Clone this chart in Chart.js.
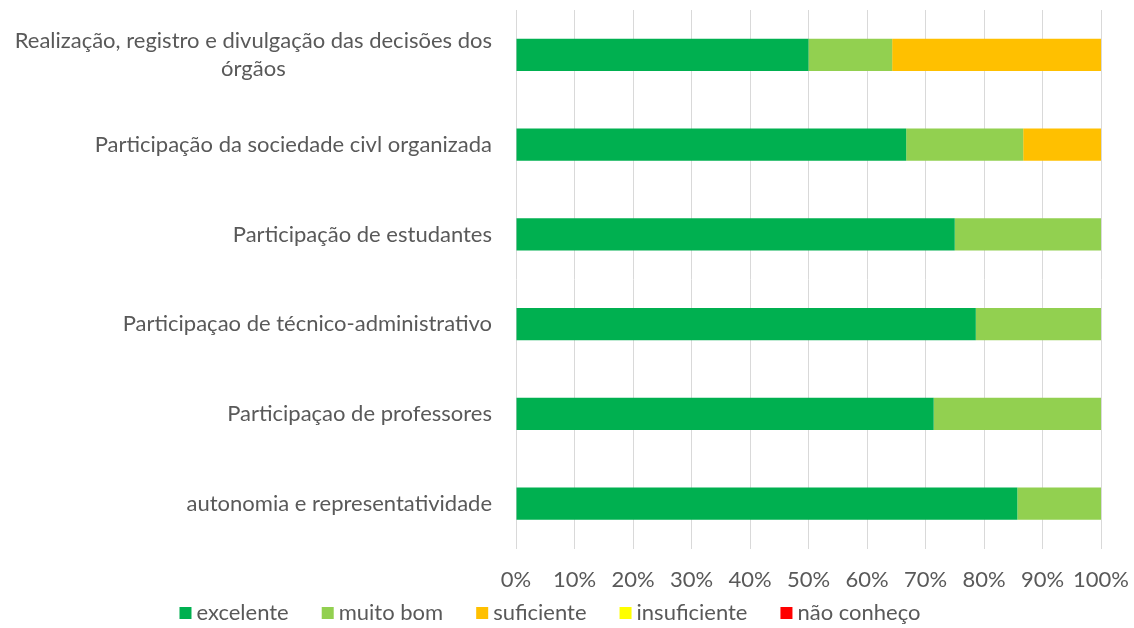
<!DOCTYPE html>
<html><head><meta charset="utf-8">
<script src="https://cdn.jsdelivr.net/npm/chart.js@4"></script>
<style>html,body{margin:0;padding:0;background:#fff}#wrap{width:1134px;height:628px}</style>
</head><body><div id="wrap"><canvas id="c" width="1134" height="628"></canvas></div>
<script>
const categories = [
  ["Realização, registro e divulgação das decisões dos", "órgãos"],
  "Participação da sociedade civl organizada",
  "Participação de estudantes",
  "Participaçao de técnico-administrativo",
  "Participaçao de professores",
  "autonomia e representatividade"
];
const excelente    = [50.0, 66.7, 75.0, 78.6, 71.4, 85.7];
const muitoBom     = [14.3, 20.0, 25.0, 21.4, 28.6, 14.3];
const suficiente   = [35.7, 13.3, 0, 0, 0, 0];
const insuficiente = [0, 0, 0, 0, 0, 0];
const naoConheco   = [0, 0, 0, 0, 0, 0];
const xTicks = [0,10,20,30,40,50,60,70,80,90,100];

const FONT = "Lato, 'Liberation Sans', sans-serif";
const TXT = "#595959";
const FS = 22;

const yLabelPlugin = {
  id: 'yLabels',
  afterDraw(chart) {
    const ctx = chart.ctx, y = chart.scales.y;
    ctx.save();
    ctx.font = FS + "px " + FONT;
    ctx.fillStyle = TXT;
    ctx.textBaseline = 'middle';
    ctx.textAlign = 'center';
    const right = y.right - 24;
    categories.forEach((lab, i) => {
      const lines = Array.isArray(lab) ? lab : [lab];
      const w = Math.max(...lines.map(l => ctx.measureText(l).width));
      const cx = right - w / 2;
      const cy = y.getPixelForValue(i);
      const lh = 28;
      lines.forEach((l, j) => {
        ctx.fillText(l, cx, cy + (j - (lines.length - 1) / 2) * lh);
      });
    });
    ctx.restore();
  }
};

const legendPlugin = {
  id: 'bottomLegend',
  afterDraw(chart) {
    const ctx = chart.ctx;
    const ds = chart.data.datasets;
    ctx.save();
    ctx.font = FS + "px " + FONT;
    ctx.textBaseline = 'middle';
    ctx.textAlign = 'left';
    const box = 12, gap = 5, itemGap = 33;
    const widths = ds.map(d => box + gap + ctx.measureText(d.label).width);
    const total = widths.reduce((a, b) => a + b, 0) + itemGap * (ds.length - 1);
    let x = 550 - total / 2;
    const cy = 613;
    ds.forEach((d, i) => {
      ctx.fillStyle = d.backgroundColor;
      ctx.fillRect(x, cy - box / 2, box, box);
      ctx.fillStyle = TXT;
      ctx.fillText(d.label, x + box + gap, cy);
      x += widths[i] + itemGap;
    });
    ctx.restore();
  }
};

new Chart(document.getElementById('c'), {
  type: 'bar',
  data: {
    labels: categories,
    datasets: [
      {label: 'excelente', data: excelente, backgroundColor: '#00B050'},
      {label: 'muito bom', data: muitoBom, backgroundColor: '#92D050'},
      {label: 'suficiente', data: suficiente, backgroundColor: '#FFC000'},
      {label: 'insuficiente', data: insuficiente, backgroundColor: '#FFFF00'},
      {label: 'não conheço', data: naoConheco, backgroundColor: '#FF0000'}
    ]
  },
  options: {
    indexAxis: 'y',
    responsive: false,
    animation: false,
    barPercentage: 0.36,
    categoryPercentage: 1.0,
    layout: {padding: {top: 10, right: 33, bottom: 17, left: 0}},
    plugins: {
      legend: {display: false},
      tooltip: {enabled: false}
    },
    scales: {
      x: {
        stacked: true, min: 0, max: 100,
        afterBuildTicks(s) { s.ticks = xTicks.map(v => ({value: v})); },
        afterFit(s) { s.paddingRight = 0; s.paddingLeft = 0; },
        ticks: {
          callback: v => v + '%',
          autoSkip: false, minRotation: 0, maxRotation: 0,
          color: TXT, font: {family: FONT, size: FS}, padding: 18
        },
        grid: {color: '#D9D9D9', lineWidth: 1, drawTicks: false},
        border: {display: false}
      },
      y: {
        stacked: true,
        afterFit(s) { s.width = 516; },
        ticks: {display: false},
        grid: {display: false},
        border: {display: false}
      }
    }
  },
  plugins: [yLabelPlugin, legendPlugin]
});
</script></body></html>
